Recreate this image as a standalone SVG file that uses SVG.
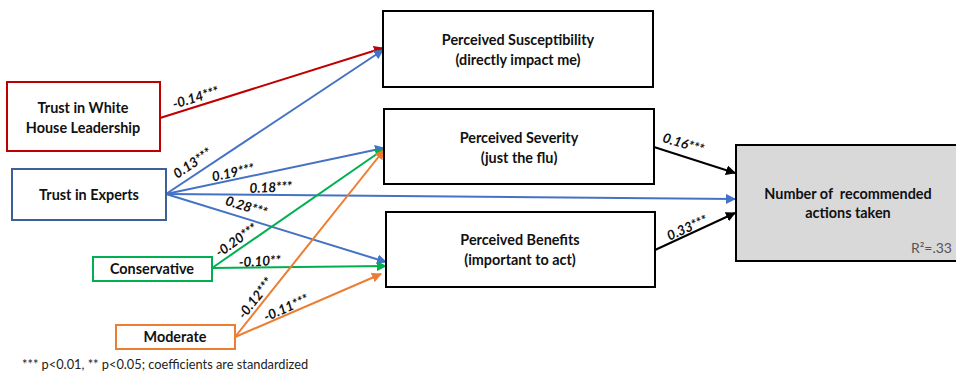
<svg xmlns="http://www.w3.org/2000/svg" width="956" height="371" viewBox="0 0 956 371">
<style>
.box{fill:#fff;stroke-width:2}
.t{font-family:Lato,"Open Sans","Liberation Sans",sans-serif;font-weight:bold;font-size:14.4px;fill:#111;text-anchor:middle}
.lab{font-family:Lato,"Open Sans","Liberation Sans",sans-serif;font-weight:bold;font-style:italic;font-size:13.5px;fill:#111;text-anchor:middle}
.c{fill:none;stroke-width:2}
</style>
<defs>
<marker id="aR" viewBox="0 0 10 10" refX="9" refY="5" markerWidth="5" markerHeight="5" orient="auto"><path d="M0,0L10,5L0,10z" fill="#C00000"/></marker>
<marker id="aB" viewBox="0 0 10 10" refX="9" refY="5" markerWidth="5" markerHeight="5" orient="auto"><path d="M0,0L10,5L0,10z" fill="#4472C4"/></marker>
<marker id="aG" viewBox="0 0 10 10" refX="9" refY="5" markerWidth="5" markerHeight="5" orient="auto"><path d="M0,0L10,5L0,10z" fill="#00B050"/></marker>
<marker id="aO" viewBox="0 0 10 10" refX="9" refY="5" markerWidth="5" markerHeight="5" orient="auto"><path d="M0,0L10,5L0,10z" fill="#ED7D31"/></marker>
<marker id="aK" viewBox="0 0 10 10" refX="9" refY="5" markerWidth="5" markerHeight="5" orient="auto"><path d="M0,0L10,5L0,10z" fill="#000"/></marker>
</defs>
<rect width="956" height="371" fill="#fff"/>
<g id="connectors">
<line class="c" stroke="#C00000" x1="160" y1="118" x2="383" y2="48" marker-end="url(#aR)"/>
<line class="c" stroke="#4472C4" x1="166" y1="194" x2="383" y2="50" marker-end="url(#aB)"/>
<line class="c" stroke="#4472C4" x1="166" y1="194" x2="384" y2="148" marker-end="url(#aB)"/>
<line class="c" stroke="#4472C4" x1="166" y1="194" x2="735" y2="199" marker-end="url(#aB)"/>
<line class="c" stroke="#4472C4" x1="166" y1="194" x2="386" y2="262" marker-end="url(#aB)"/>
<line class="c" stroke="#00B050" x1="212" y1="268" x2="384" y2="149" marker-end="url(#aG)"/>
<line class="c" stroke="#00B050" x1="212" y1="268" x2="386" y2="266" marker-end="url(#aG)"/>
<line class="c" stroke="#ED7D31" x1="235" y1="337" x2="384" y2="150" marker-end="url(#aO)"/>
<line class="c" stroke="#ED7D31" x1="235" y1="337" x2="381" y2="274" marker-end="url(#aO)"/>
<line class="c" stroke="#000" x1="654" y1="147" x2="735" y2="173" marker-end="url(#aK)"/>
<line class="c" stroke="#000" x1="655" y1="250" x2="735" y2="213" marker-end="url(#aK)"/>
<text class="lab" transform="translate(197,102) rotate(-17)">-0.14***</text>
<text class="lab" transform="translate(195,167) rotate(-34)">0.13***</text>
<text class="lab" transform="translate(234,177) rotate(-12)">0.19***</text>
<text class="lab" transform="translate(271,192) rotate(-3)">0.18***</text>
<text class="lab" transform="translate(245,211) rotate(17)">0.28***</text>
<text class="lab" transform="translate(239,244) rotate(-35)">-0.20***</text>
<text class="lab" transform="translate(260,266) rotate(-3)">-0.10**</text>
<text class="lab" transform="translate(259,301) rotate(-52)">-0.12***</text>
<text class="lab" transform="translate(288,312) rotate(-24)">-0.11***</text>
<text class="lab" transform="translate(682,148) rotate(17)">0.16***</text>
<text class="lab" transform="translate(689,232) rotate(-24)">0.33***</text>
</g>
<g id="n-whitehouse"><rect class="box" stroke="#C00000" x="7" y="82" width="153" height="69"/><text class="t" x="83" y="113">Trust in White</text><text class="t" x="83" y="133">House Leadership</text></g>
<g id="n-experts"><rect class="box" stroke="#3E5F9A" x="12" y="169" width="154" height="51"/><text class="t" x="89" y="200">Trust in Experts</text></g>
<g id="n-conservative"><rect class="box" stroke="#00B050" x="93" y="257" width="119" height="24"/><text class="t" x="152" y="274">Conservative</text></g>
<g id="n-moderate"><rect class="box" stroke="#ED7D31" x="116" y="325" width="119" height="24"/><text class="t" x="175" y="342">Moderate</text></g>
<g id="n-susceptibility"><rect class="box" stroke="#000" x="383" y="11" width="270" height="76"/><text class="t" x="518" y="45">Perceived Susceptibility</text><text class="t" x="518" y="65">(directly impact me)</text></g>
<g id="n-severity"><rect class="box" stroke="#000" x="384" y="109" width="270" height="75"/><text class="t" x="519" y="143">Perceived Severity</text><text class="t" x="519" y="163">(just the flu)</text></g>
<g id="n-benefits"><rect class="box" stroke="#000" x="386" y="212" width="269" height="75"/><text class="t" x="520" y="245">Perceived Benefits</text><text class="t" x="520" y="265">(important to act)</text></g>
<g id="n-actions"><rect class="box" stroke="#000" style="fill:#D9D9D9" x="736" y="145" width="224" height="116"/><text class="t" x="848" y="199" xml:space="preserve">Number of  recommended</text><text class="t" x="848" y="218">actions taken</text><text x="952" y="253" text-anchor="end" font-family="Lato,'Open Sans','Liberation Sans',sans-serif" font-size="14" fill="#555">R²=.33</text></g>
<text x="22" y="369" font-family="Lato,'Open Sans','Liberation Sans',sans-serif" font-size="12.8" fill="#222">*** p&lt;0.01, ** p&lt;0.05; coefficients are standardized</text>
</svg>
